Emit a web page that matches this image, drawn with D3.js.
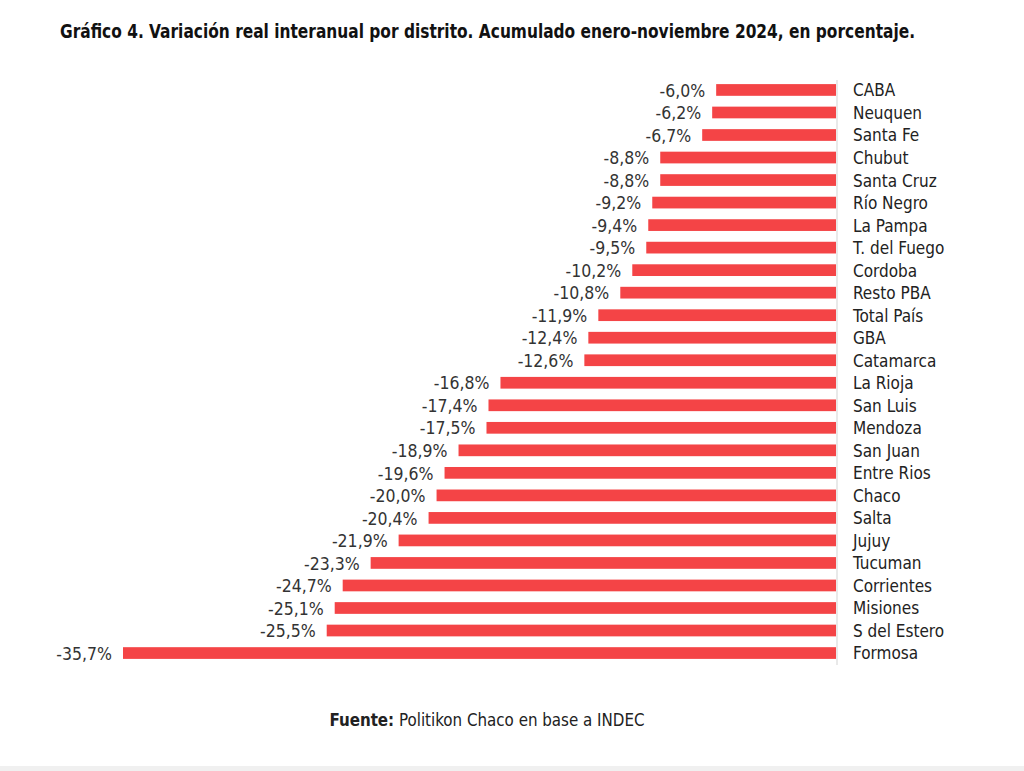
<html>
<head>
  <meta charset="utf-8">
  <script src="https://d3js.org/d3.v7.min.js"></script>
  <style>
    body { margin: 0; background: #fff; }
    text { font-family: "DejaVu Sans Condensed", "Liberation Sans Narrow", "Roboto", sans-serif; }
  </style>
</head>
<body>
  <svg id="chart" width="1024" height="771"></svg>
  <script>
    // data
    const districts = ["CABA", "Neuquen", "Santa Fe", "Chubut", "Santa Cruz", "Río Negro", "La Pampa",
      "T. del Fuego", "Cordoba", "Resto PBA", "Total País", "GBA", "Catamarca", "La Rioja", "San Luis",
      "Mendoza", "San Juan", "Entre Rios", "Chaco", "Salta", "Jujuy", "Tucuman", "Corrientes",
      "Misiones", "S del Estero", "Formosa"];
    const values = [-6.0, -6.2, -6.7, -8.8, -8.8, -9.2, -9.4, -9.5, -10.2, -10.8, -11.9, -12.4, -12.6,
      -16.8, -17.4, -17.5, -18.9, -19.6, -20.0, -20.4, -21.9, -23.3, -24.7, -25.1, -25.5, -35.7];

    const data = districts.map((d, i) => ({ name: d, value: values[i] }));

    const svg = d3.select("#chart");

    const xScale = d3.scaleLinear().domain([-35.7, 0]).range([123, 836]);
    const yScale = d3.scaleBand().domain(districts).range([78.7, 664.3]).paddingInner(0.48).paddingOuter(0.24);

    const fmt = v => d3.format(".1f")(v).replace(".", ",").replace("−", "-") + "%";

    // title
    svg.append("text")
       .attr("x", 60).attr("y", 38)
       .attr("font-size", 19).attr("font-weight", "bold").attr("fill", "#111")
       .attr("textLength", 855).attr("lengthAdjust", "spacingAndGlyphs")
       .text("Gráfico 4. Variación real interanual por distrito. Acumulado enero-noviembre 2024, en porcentaje.");

    // zero line
    svg.append("line")
       .attr("x1", xScale(0) + 1).attr("x2", xScale(0) + 1)
       .attr("y1", 80).attr("y2", 665)
       .attr("stroke", "#e2e2e2").attr("stroke-width", 1.5);

    const rows = svg.selectAll("g.row").data(data).join("g").attr("class", "row");

    rows.append("rect")
        .attr("x", d => xScale(d.value))
        .attr("y", d => yScale(d.name))
        .attr("width", d => xScale(0) - xScale(d.value))
        .attr("height", yScale.bandwidth())
        .attr("fill", "#f44446");

    rows.append("text")
        .attr("x", d => xScale(d.value) - 11)
        .attr("y", d => yScale(d.name) + yScale.bandwidth() / 2)
        .attr("dy", "0.38em")
        .attr("text-anchor", "end")
        .attr("font-size", 17.5).attr("fill", "#333")
        .text(d => fmt(d.value));

    rows.append("text")
        .attr("x", 853)
        .attr("y", d => yScale(d.name) + yScale.bandwidth() / 2)
        .attr("dy", "0.38em")
        .attr("font-size", 17).attr("fill", "#222")
        .text(d => d.name);

    // source
    const src = svg.append("text")
       .attr("x", 487).attr("y", 726)
       .attr("text-anchor", "middle")
       .attr("font-size", 16.8).attr("fill", "#222");
    src.append("tspan").attr("font-weight", "bold").text("Fuente:");
    src.append("tspan").text(" Politikon Chaco en base a INDEC");

    // bottom strip
    svg.append("rect").attr("x", 0).attr("y", 766).attr("width", 1024).attr("height", 5).attr("fill", "#f0f0f0");
  </script>
</body>
</html>
